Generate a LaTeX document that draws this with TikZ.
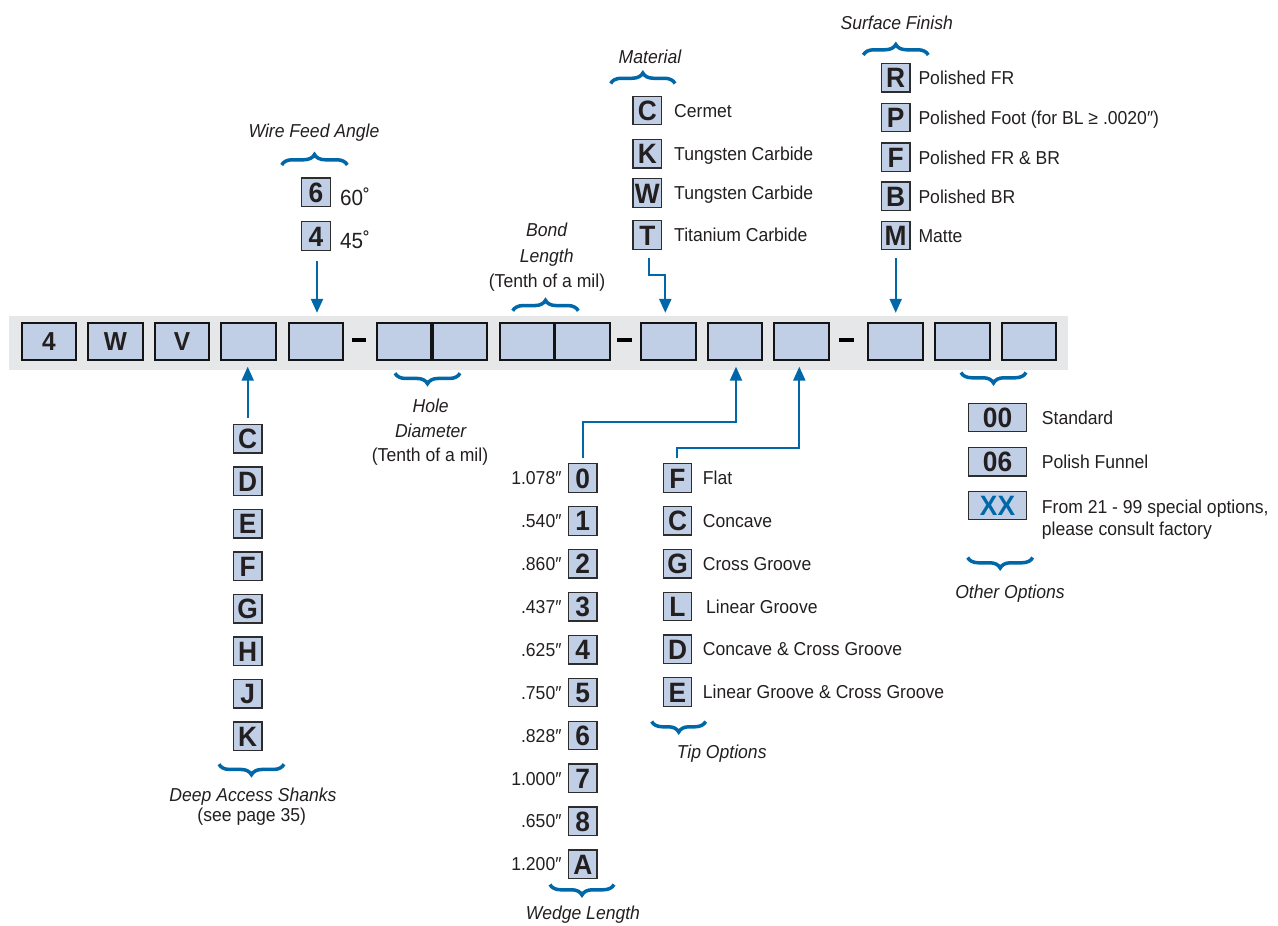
\documentclass[tikz,border=0pt]{standalone}
\usepackage{fontspec}
\setmainfont{Liberation Sans}[FakeStretch=0.94]
\usetikzlibrary{arrows.meta,decorations.pathreplacing,calc}
\definecolor{boxblue}{RGB}{192,207,229}
\definecolor{barbg}{RGB}{230,231,232}
\definecolor{arrblue}{RGB}{0,104,168}
\definecolor{boxline}{RGB}{45,45,45}
\definecolor{txt}{RGB}{35,31,32}
\newcommand\lblfont{\fontsize{18.7}{21}\selectfont}
\begin{document}
\begin{tikzpicture}[x=1pt,y=-1pt,
  optbox/.style={draw=boxline, fill=boxblue, line width=1.3pt, minimum width=28.5pt, minimum height=28.5pt, inner sep=0pt, text height=20pt, text depth=0pt, font=\bfseries\fontsize{28}{28}\selectfont, text=txt},
  widebox/.style={optbox, minimum width=58.3pt, minimum height=28.3pt},
  mainbox/.style={draw=black!92, fill=boxblue, line width=2pt, minimum width=54.7pt, minimum height=37.3pt, inner sep=0pt, text height=18.6pt, text depth=0pt, font=\bfseries\fontsize{26}{26}\selectfont, text=txt},
  lbl/.style={anchor=base west, inner sep=0pt, font=\lblfont, text=txt},
  lble/.style={lbl, anchor=base east},
  reg/.style={anchor=base, inner sep=0pt, font=\lblfont, text=txt},
  ital/.style={anchor=base, inner sep=0pt, font=\lblfont\itshape, text=txt},
  deg/.style={anchor=base west, inner sep=0pt, font=\fontsize{22}{22}\selectfont, text=txt},
  arr/.style={draw=arrblue, line width=2.2pt, -{Triangle[width=12pt,length=14pt]}},
  brc/.style={draw=arrblue, line width=3.5pt, decorate, decoration={brace, amplitude=10.5pt}},
  dashline/.style={draw=black, line width=4pt}
]
\useasboundingbox (0,0) rectangle (1278,926);

% ---------- main bar ----------
\fill[barbg] (9,316) rectangle (1068,370);
\node[mainbox] (b1) at (49,341.5) {4};
\node[mainbox] (b2) at (115.5,341.5) {W};
\node[mainbox] (b3) at (182,341.5) {V};
\node[mainbox] (b4) at (248.6,341.5) {};
\node[mainbox] (b5) at (316,341.5) {};
\node[mainbox] (b6) at (404,341.5) {};
\node[mainbox] (b7) at (460,341.5) {};
\node[mainbox] (b8) at (527,341.5) {};
\node[mainbox] (b9) at (582.7,341.5) {};
\node[mainbox] (b10) at (668.3,341.5) {};
\node[mainbox] (b11) at (735,341.5) {};
\node[mainbox] (b12) at (801.7,341.5) {};
\node[mainbox] (b13) at (895.7,341.5) {};
\node[mainbox] (b14) at (962.3,341.5) {};
\node[mainbox] (b15) at (1029,341.5) {};
\draw[dashline] (352,339.7) -- (366,339.7);
\draw[dashline] (617,339.7) -- (632,339.7);
\draw[dashline] (839,339.7) -- (854,339.7);

% ---------- wire feed angle ----------
\node[ital] (wfl) at (314,137.3) {Wire Feed Angle};
\draw[brc] (281.7,165) -- (347.3,165);
\node[optbox] (wf6) at (316,192.3) {6};
\node[optbox] (wf4) at (316,236) {4};
\node[deg] (wf6l) at (340,205) {60˚};
\node[deg] (wf4l) at (340,248.3) {45˚};
\draw[arr] ($(wf4.south)+(1,10)$) -- ($(b5.north)+(1,-9)$);

% ---------- bond length ----------
\node[ital] (bl1) at (546.7,236.7) {Bond};
\node[ital] (bl2) at (546.7,262) {Length};
\node[reg] (bl3) at (547,287) {(Tenth of a mil)};
\draw[brc] (512.7,310.8) -- (578.3,310.8);

% ---------- hole diameter ----------
\draw[brc] (460,373.2) -- (395,373.2);
\node[ital] (hd1) at (430.7,412) {Hole};
\node[ital] (hd2) at (430.7,437) {Diameter};
\node[reg] (hd3) at (430,461) {(Tenth of a mil)};

% ---------- material ----------
\node[ital] (matl) at (650,63.3) {Material};
\draw[brc] (610.7,83.5) -- (675,83.5);
\foreach \n/\l/\y/\t in {mC/C/110.5/Cermet, mK/K/153.8/Tungsten Carbide, mW/W/193/Tungsten Carbide, mT/T/235/Titanium Carbide}{
  \node[optbox] (\n) at (647.3,\y) {\l};
  \node[lbl] at (674,\y+6.7) {\t};
}
\draw[arr] ($(mT.south)+(1.5,8)$) |- ($(b10.north)+(-3,-47)$) -- ($(b10.north)+(-3,-9)$);

% ---------- surface finish ----------
\node[ital] (sfl) at (896.7,30) {Surface Finish};
\draw[brc] (863.3,55) -- (928.3,55);
\foreach \n/\l/\y/\t in {sR/R/77.8/Polished FR, sP/P/117.5/{Polished Foot (for BL ≥ .0020″)}, sF/F/157.3/Polished FR \& BR, sB/B/196.3/Polished BR, sM/M/235.5/Matte}{
  \node[optbox] (\n) at (895.7,\y) {\l};
  \node[lbl] at (918.3,\y+6.7) {\t};
}
\draw[arr] ($(sM.south)+(0,8)$) -- ($(b13.north)+(0,-9)$);

% ---------- deep access shanks ----------
\foreach \l [count=\i from 0] in {C,D,E,F,G,H,J,K}{
  \node[optbox] (d\l) at (247.7,438.7+42.5*\i) {\l};
}
\draw[arr] ($(dC.north)+(0,-6)$) -- ($(dC.north |- b4.south)+(0,5.5)$);
\draw[brc] (284,764.2) -- (219,764.2);
\node[ital] (dal1) at (253,801.7) {Deep Access Shanks};
\node[reg] (dal2) at (251.7,821.7) {(see page 35)};

% ---------- wedge length ----------
\foreach \l/\t [count=\i from 0] in {0/1.078″, 1/.540″, 2/.860″, 3/.437″, 4/.625″, 5/.750″, 6/.828″, 7/1.000″, 8/.650″, A/1.200″}{
  \node[optbox] (w\l) at (582.8,478+42.9*\i) {\l};
  \node[lble] at (561.7,478+42.9*\i+6.7) {\t};
}
\draw[arr] ($(w0.north)+(0,-5)$) |- ($(b11.south)+(1,61)$) -- ($(b11.south)+(1,5.5)$);
\draw[brc] (614,884.5) -- (550,884.5);
\node[ital] (wll) at (583,919.5) {Wedge Length};

% ---------- tip options ----------
\foreach \l/\t/\dx [count=\i from 0] in {F/Flat/0, C/Concave/0, G/Cross Groove/0, L/Linear Groove/3.3, D/Concave \& Cross Groove/0, E/Linear Groove \& Cross Groove/0}{
  \node[optbox] (t\l) at (677.5,478+42.8*\i) {\l};
  \node[lbl] at (702.7+\dx,478+42.8*\i+6.7) {\t};
}
\draw[arr] ($(tF.north)+(-0.8,-5)$) |- ($(b12.south)+(-2.4,87)$) -- ($(b12.south)+(-2.4,5.5)$);
\draw[brc] (705.7,721.5) -- (651.7,721.5);
\node[ital] (tol) at (721.7,758) {Tip Options};

% ---------- other options ----------
\draw[brc] (1026,372.5) -- (961,372.5);
\node[widebox] (o00) at (997.5,417.5) {00};
\node[widebox] (o06) at (997.5,461.7) {06};
\node[widebox, text=arrblue] (oXX) at (997.5,505.5) {XX};
\node[lbl] at (1041.7,424) {Standard};
\node[lbl] at (1041.7,468) {Polish Funnel};
\node[lbl] at (1041.7,513.5) {From 21 - 99 special options,};
\node[lbl] at (1041.7,535) {please consult factory};
\draw[brc] (1032.7,557.5) -- (967.7,557.5);
\node[ital] (ool) at (1010,598) {Other Options};
\end{tikzpicture}
\end{document}
